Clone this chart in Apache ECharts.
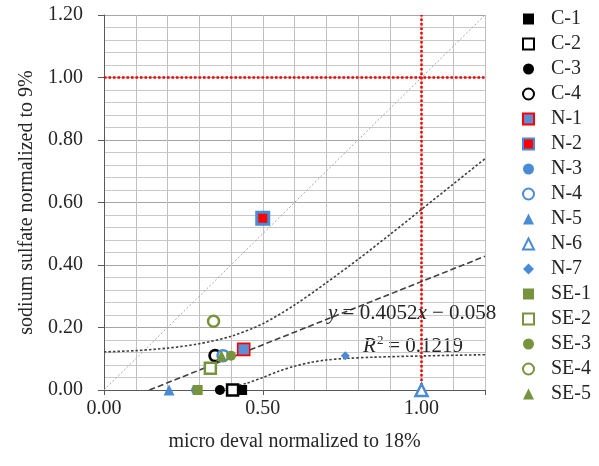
<!DOCTYPE html>
<html>
<head>
<meta charset="utf-8">
<script src="https://cdn.jsdelivr.net/npm/echarts@6/dist/echarts.min.js"></script>
<style>html,body{margin:0;padding:0;background:#fff}#c{width:599px;height:466px}</style>
</head>
<body>
<div id="c"></div>
<script>
// ---- data ----
const seriesNames = ['C-1','C-2','C-3','C-4','N-1','N-2','N-3','N-4','N-5','N-6','N-7','SE-1','SE-2','SE-3','SE-4','SE-5'];
const microDeval  = [0.435,0.405,0.365,0.35,0.44,0.50,0.29,0.375,0.205,1.00,0.76,0.295,0.335,0.40,0.345,0.37];
const sodiumSulf  = [0.00,0.00,0.00,0.11,0.13,0.55,0.00,0.11,0.00,0.00,0.11,0.00,0.07,0.11,0.22,0.11];

const regressionX = [0.143, 1.2];
const regressionY = [0.0, 0.428];
const upperBandX = [0.00,0.10,0.20,0.30,0.40,0.50,0.60,0.70,0.80,0.90,1.00,1.10,1.20];
const upperBandY = [0.122,0.126,0.134,0.148,0.172,0.212,0.272,0.343,0.418,0.497,0.578,0.659,0.740];
const lowerBandX = [0.37,0.45,0.50,0.55,0.60,0.65,0.70,0.76,0.85,1.00,1.20];
const lowerBandY = [0.00,0.022,0.040,0.060,0.076,0.088,0.096,0.101,0.105,0.109,0.113];
const identityX = [0, 1.2];
const identityY = [0, 1.2];
const limitValue = 1.0;
const axisMax = 1.2;
const yTickLabels = ['0.00','0.20','0.40','0.60','0.80','1.00','1.20'];
const xTickLabels = ['0.00','0.50','1.00'];
const equationText = ['y', ' = 0.4052', 'x', ' − 0.058'];
const r2Text = ['R', '2', ' = 0.1219'];

// ---- styles ----
const BLK='#000000', BLU='#4a8bd6', GRN='#77933c', RED='#ff0000';
const styles = {
 'C-1':{symbol:'rect',size:10,fill:BLK,border:BLK,bw:0},
 'C-2':{symbol:'rect',size:11,fill:'#fff',border:BLK,bw:2.5},
 'C-3':{symbol:'circle',size:10,fill:BLK,border:BLK,bw:0},
 'C-4':{symbol:'circle',size:11,fill:'#fff',border:BLK,bw:2.8},
 'N-1':{symbol:'rect',size:12,fill:'#5b8ed4',border:RED,bw:1.6},
 'N-2':{symbol:'rect',size:12,fill:RED,border:BLU,bw:3},
 'N-3':{symbol:'circle',size:10,fill:BLU,border:BLU,bw:0},
 'N-4':{symbol:'circle',size:11,fill:'#fff',border:BLU,bw:2.5},
 'N-5':{symbol:'triangle',size:11,fill:BLU,border:BLU,bw:0},
 'N-6':{symbol:'triangle',size:12,fill:'#fff',border:BLU,bw:2.5},
 'N-7':{symbol:'diamond',size:9,fill:BLU,border:BLU,bw:0},
 'SE-1':{symbol:'rect',size:10,fill:GRN,border:GRN,bw:0},
 'SE-2':{symbol:'rect',size:11,fill:'#fff',border:GRN,bw:2.5},
 'SE-3':{symbol:'circle',size:10,fill:GRN,border:GRN,bw:0},
 'SE-4':{symbol:'circle',size:11,fill:'#fff',border:GRN,bw:2.5},
 'SE-5':{symbol:'triangle',size:11,fill:GRN,border:GRN,bw:0}
};
const FONT = '"Liberation Serif","Times New Roman",serif';
const TXT = '#262626';

function pairs(xs, ys){ return xs.map((x,i)=>[x, ys[i]]); }

const lineSeries = [
 {name:'identity', type:'line', data:pairs(identityX, identityY), symbol:'none', silent:true, z:2,
  lineStyle:{color:'#a6a6a6', width:1, type:[2,2]}},
 {name:'limitH', type:'line', data:[[0,limitValue],[axisMax,limitValue]], symbol:'none', silent:true, z:3,
  lineStyle:{color:RED, width:2.5, type:[2.5,2]}},
 {name:'limitV', type:'line', data:[[limitValue,0],[limitValue,axisMax]], symbol:'none', silent:true, z:3,
  lineStyle:{color:RED, width:2.5, type:[2.5,2]}},
 {name:'upper', type:'line', data:pairs(upperBandX, upperBandY), symbol:'none', smooth:0.3, silent:true, z:4,
  lineStyle:{color:'#404040', width:1.6, type:[2.5,2]}},
 {name:'lower', type:'line', data:pairs(lowerBandX, lowerBandY), symbol:'none', smooth:0.3, silent:true, z:4,
  lineStyle:{color:'#404040', width:1.6, type:[2.5,2]}},
 {name:'regression', type:'line', data:pairs(regressionX, regressionY), symbol:'none', silent:true, z:4,
  lineStyle:{color:'#404040', width:1.6, type:[6,3]}}
];

const scatterSeries = seriesNames.map((n,i)=>{
 const s = styles[n];
 return {name:n, type:'scatter', data:[[microDeval[i], sodiumSulf[i]]], symbol:s.symbol, symbolSize:s.size, z:10,
   itemStyle:{color:s.fill, borderColor:s.border, borderWidth:s.bw, opacity:1}};
});

const EQF = 21;
const chart = echarts.init(document.getElementById('c'));
chart.setOption({
 animation:false,
 backgroundColor:'#fff',
 grid:{left:104, right:114, top:15, bottom:76},
 legend:{
  data:seriesNames, orient:'vertical', left:517, top:4, itemWidth:11, itemHeight:11, itemGap:5,
  symbolKeepAspect:true,
  textStyle:{fontFamily:FONT, fontSize:20, color:TXT, padding:[0,0,0,12]}, selectedMode:false
 },
 xAxis:[
  {type:'value', min:0, max:axisMax, interval:0.1,
   axisLine:{show:true, onZero:false, lineStyle:{color:'#595959', width:1}},
   axisTick:{show:false}, axisLabel:{show:false},
   splitLine:{show:true, lineStyle:{color:'#c0c0c0', width:1}}},
  {type:'value', min:0, max:axisMax, interval:0.5, position:'bottom',
   name:'micro deval normalized to 18%', nameLocation:'middle', nameGap:42,
   nameTextStyle:{fontFamily:FONT, fontSize:20, color:TXT},
   axisLine:{show:false},
   axisTick:{show:true, length:5, lineStyle:{color:'#595959'}},
   axisLabel:{margin:9, fontFamily:FONT, fontSize:20, color:TXT,
     formatter:v=>{ const k=Math.round(v*2); return Math.abs(v*2-k)<1e-6 ? xTickLabels[k] : ''; }},
   splitLine:{show:false}}
 ],
 yAxis:{type:'value', min:0, max:axisMax, interval:0.2,
  name:'sodium sulfate normalized to 9%', nameLocation:'middle', nameGap:67, nameRotate:90,
  nameTextStyle:{fontFamily:FONT, fontSize:20, color:TXT},
  axisLine:{show:true, onZero:false, lineStyle:{color:'#595959', width:1}},
  axisTick:{show:true, length:6, lineStyle:{color:'#595959'}},
  axisLabel:{margin:21, fontFamily:FONT, fontSize:20, color:TXT,
    formatter:v=>{ const k=Math.round(v*5); return yTickLabels[k]; }},
  splitLine:{show:true, lineStyle:{color:'#a6a6a6', width:1}},
  minorTick:{show:false, splitNumber:5},
  minorSplitLine:{show:true, lineStyle:{color:'#c8c8c8', width:1}}
 },
 graphic:[
  {type:'text', left:328, top:303, z:20, silent:true,
   style:{text:'{i|'+equationText[0]+'}'+equationText[1]+'{i|'+equationText[2]+'}'+equationText[3],
     font:EQF+'px '+FONT, fill:TXT,
     rich:{i:{fontStyle:'italic', fontSize:EQF, fontFamily:FONT, fill:TXT}}}},
  {type:'group', left:363, top:334, z:20, silent:true, children:[
    {type:'text', x:0, y:0, style:{text:r2Text[0], font:'italic '+EQF+'px '+FONT, fill:TXT}},
    {type:'text', x:14, y:-2, style:{text:r2Text[1], font:'13px '+FONT, fill:TXT}},
    {type:'text', x:20, y:0, style:{text:r2Text[2], font:EQF+'px '+FONT, fill:TXT}}
  ]}
 ],
 series: lineSeries.concat(scatterSeries)
});
</script>
</body>
</html>
